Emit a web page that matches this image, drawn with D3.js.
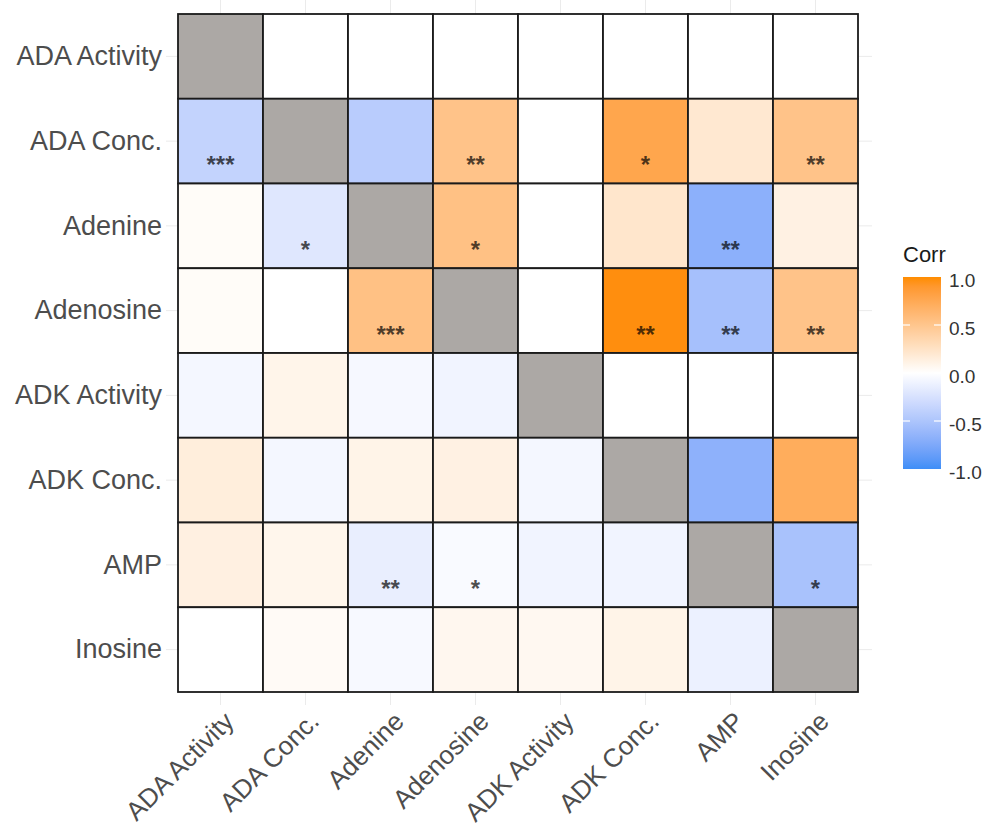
<!DOCTYPE html>
<html lang="en">
<head>
    <meta charset="UTF-8">
    <title>Corr heatmap</title>
    <script src="https://cdn.jsdelivr.net/npm/d3@7"></script>
    <style>
        body, html {
            margin: 0;
            padding: 0;
            background: #fff;
            overflow: hidden;
        }
        svg {
            display: block;
            font-family: "Liberation Sans", Arial, sans-serif;
        }
    </style>
</head>
<body>
    <svg id="mainsvg"></svg>
    <script>
        // variables, same order on both axes
        const vars = ['ADA Activity', 'ADA Conc.', 'Adenine', 'Adenosine',
                      'ADK Activity', 'ADK Conc.', 'AMP', 'Inosine'];

        // correlation per row (y), one value per column (x); null = diagonal
        const rowADAActivity = [null, 0, 0, 0, 0, 0, 0, 0];
        const rowADAConc     = [-0.37, null, -0.43, 0.52, 0, 0.78, 0.20, 0.52];
        const rowAdenine     = [0.03, -0.20, null, 0.54, 0, 0.22, -0.68, 0.12];
        const rowAdenosine   = [0.03, 0, 0.54, null, 0, 0.98, -0.54, 0.52];
        const rowADKActivity = [-0.07, 0.09, -0.06, -0.09, null, 0, 0, 0];
        const rowADKConc     = [0.15, -0.07, 0.10, 0.12, -0.07, null, -0.67, 0.72];
        const rowAMP         = [0.13, 0.08, -0.14, -0.04, -0.09, -0.09, null, -0.52];
        const rowInosine     = [0, 0.04, -0.05, 0.07, 0.06, 0.10, -0.12, null];

        // significance stars, same layout
        const starADAActivity = ['', '', '', '', '', '', '', ''];
        const starADAConc     = ['***', '', '', '**', '', '*', '', '**'];
        const starAdenine     = ['', '*', '', '*', '', '', '**', ''];
        const starAdenosine   = ['', '', '***', '', '', '**', '**', '**'];
        const starADKActivity = ['', '', '', '', '', '', '', ''];
        const starADKConc     = ['', '', '', '', '', '', '', ''];
        const starAMP         = ['', '', '**', '*', '', '', '', '*'];
        const starInosine     = ['', '', '', '', '', '', '', ''];

        const legendBreaks = [1.0, 0.5, 0.0, -0.5, -1.0];

        const corrRows = [rowADAActivity, rowADAConc, rowAdenine, rowAdenosine,
                          rowADKActivity, rowADKConc, rowAMP, rowInosine];
        const starRows = [starADAActivity, starADAConc, starAdenine, starAdenosine,
                          starADKActivity, starADKConc, starAMP, starInosine];

        const cells = [];
        corrRows.forEach((row, i) => {
            row.forEach((v, j) => {
                cells.push({ y: vars[i], x: vars[j], value: v, star: starRows[i][j] });
            });
        });

        const width = 991, height = 833;
        const svg = d3.select('svg').attr('width', width).attr('height', height);

        const xScale = d3.scaleBand().domain(vars).range([178, 858]);
        const yScale = d3.scaleBand().domain(vars).range([14, 692]);

        // gradient2: blue - white - orange
        const low = '#3d8ef7', mid = '#ffffff', high = '#ff8c00';
        const colorScale = d3.scaleLinear()
            .domain([-1, 0, 1])
            .range([low, mid, high])
            .interpolate(d3.interpolateLab)
            .clamp(true);
        const naColor = '#aca8a5';

        // faint panel grid
        const grid = svg.append('g');
        grid.selectAll('.vline').data(vars).enter().append('line')
            .attr('x1', d => xScale(d) + xScale.bandwidth() / 2)
            .attr('x2', d => xScale(d) + xScale.bandwidth() / 2)
            .attr('y1', 0).attr('y2', 705)
            .attr('stroke', '#ebebeb').attr('stroke-width', 1);
        grid.selectAll('.hline').data(vars).enter().append('line')
            .attr('y1', d => yScale(d) + yScale.bandwidth() / 2)
            .attr('y2', d => yScale(d) + yScale.bandwidth() / 2)
            .attr('x1', 166).attr('x2', 872)
            .attr('stroke', '#ebebeb').attr('stroke-width', 1);

        // tiles
        svg.append('g').selectAll('rect').data(cells).enter().append('rect')
            .attr('x', d => xScale(d.x))
            .attr('y', d => yScale(d.y))
            .attr('width', xScale.bandwidth())
            .attr('height', yScale.bandwidth())
            .attr('fill', d => d.value === null ? naColor : colorScale(d.value))
            .attr('stroke', '#1a1a1a')
            .attr('stroke-width', 1.8);

        // stars
        svg.append('g').selectAll('text').data(cells.filter(d => d.star)).enter().append('text')
            .attr('x', d => xScale(d.x) + xScale.bandwidth() / 2)
            .attr('y', d => yScale(d.y) + yScale.bandwidth() / 2 + 32)
            .attr('text-anchor', 'middle')
            .attr('font-size', '24px')
            .attr('font-weight', 'bold')
            .attr('fill', '#000')
            .attr('fill-opacity', 0.7)
            .text(d => d.star);

        // axes
        const yAxisGroup = svg.append('g')
            .attr('transform', `translate(${xScale.range()[0]}, 0)`)
            .call(d3.axisLeft(yScale).tickSize(0).tickPadding(16));
        yAxisGroup.select('.domain').remove();
        yAxisGroup.selectAll('.tick text')
            .attr('font-size', '27px')
            .attr('fill', '#4d4d4d');

        const xAxisGroup = svg.append('g')
            .attr('transform', `translate(0, ${yScale.range()[1]})`)
            .call(d3.axisBottom(xScale).tickSize(0));
        xAxisGroup.select('.domain').remove();
        xAxisGroup.selectAll('.tick text')
            .attr('font-size', '26px')
            .attr('fill', '#4d4d4d')
            .attr('x', 0).attr('y', 0).attr('dy', 0)
            .attr('text-anchor', 'end')
            .attr('transform', 'translate(15, 31) rotate(-45)');
        svg.selectAll('.tick text').attr('font-family', '"Liberation Sans", Arial, sans-serif');

        // legend
        const legendScale = d3.scaleLinear().domain([1, -1]).range([277, 469]);
        const barX = 903, barW = 38;
        const fmt = d3.formatLocale({ decimal: '.', thousands: ',', grouping: [3], currency: ['', ''], minus: '-' }).format('.1f');

        const defs = svg.append('defs');
        const grad = defs.append('linearGradient')
            .attr('id', 'corrgrad')
            .attr('x1', 0).attr('y1', 0).attr('x2', 0).attr('y2', 1);
        d3.range(0, 21).forEach(k => {
            const v = 1 - k / 10;
            grad.append('stop')
                .attr('offset', (k / 20 * 100) + '%')
                .attr('stop-color', colorScale(v));
        });

        const legend = svg.append('g');
        legend.append('text')
            .attr('x', barX)
            .attr('y', 262)
            .attr('font-size', '22px')
            .attr('fill', '#1a1a1a')
            .text('Corr');

        legend.append('rect')
            .attr('x', barX)
            .attr('y', legendScale(1))
            .attr('width', barW)
            .attr('height', legendScale(-1) - legendScale(1))
            .attr('fill', 'url(#corrgrad)');

        legend.selectAll('.tickl').data(legendBreaks.filter(d => Math.abs(d) < 1)).enter().append('line')
            .attr('x1', barX).attr('x2', barX + 7)
            .attr('y1', d => legendScale(d)).attr('y2', d => legendScale(d))
            .attr('stroke', '#fff').attr('stroke-width', 1.2);
        legend.selectAll('.tickr').data(legendBreaks.filter(d => Math.abs(d) < 1)).enter().append('line')
            .attr('x1', barX + barW - 7).attr('x2', barX + barW)
            .attr('y1', d => legendScale(d)).attr('y2', d => legendScale(d))
            .attr('stroke', '#fff').attr('stroke-width', 1.2);

        legend.selectAll('.lab').data(legendBreaks).enter().append('text')
            .attr('x', barX + barW + 8)
            .attr('y', d => legendScale(d) + 3)
            .attr('dy', '0.36em')
            .attr('font-size', '19px')
            .attr('fill', '#333')
            .text(d => fmt(d));
    </script>
</body>
</html>
